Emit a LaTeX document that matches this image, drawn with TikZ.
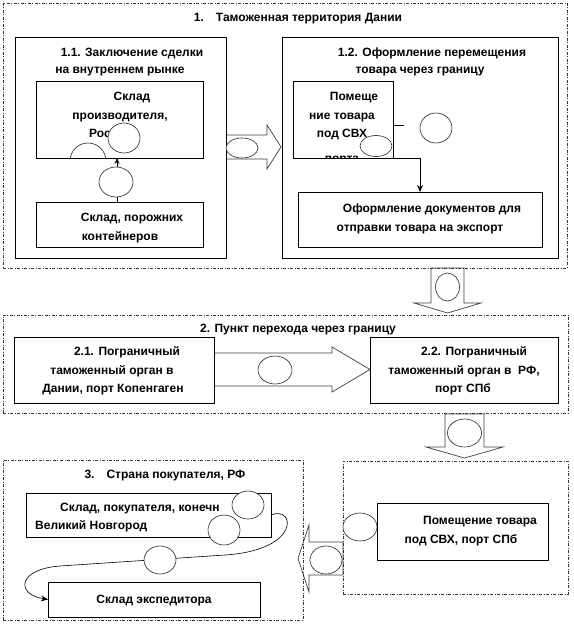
\documentclass[tikz,border=0pt]{standalone}
\usepackage{fontspec}
\setmainfont{Liberation Sans}
\usetikzlibrary{shapes.geometric,arrows.meta}
\begin{document}
\begin{tikzpicture}[x=1pt,y=-1pt,
  dashbox/.style={draw=black!80, line width=0.6pt, dash pattern=on 3pt off 1.5pt on 1pt off 1.5pt, anchor=north west, inner sep=0pt, outer sep=0pt},
  box/.style={draw=black, line width=0.8pt, fill=white, anchor=north west, inner sep=0pt, outer sep=0pt},
  txt/.style={font=\bfseries\fontsize{12}{14}\selectfont, inner sep=0pt, anchor=base},
  ell/.style={ellipse, draw=black!85, fill=white, line width=0.6pt, inner sep=0pt, outer sep=0pt},
  barrow/.style={draw=black!75, fill=white, line width=0.7pt, line join=miter},
  conn/.style={draw=black, line width=0.6pt}
]
\useasboundingbox (0,0) rectangle (573,628);
\fill[white] (0,0) rectangle (573,628);

% block arrows
\draw[barrow] (226,135) -- (267,135) -- (267,125) -- (281,147) -- (267,169) -- (267,159) -- (226,159) -- cycle;
\draw[barrow] (431,268) -- (431,303) -- (414,303) -- (447.5,313) -- (481,303) -- (464,303) -- (464,268) -- cycle;
\draw[barrow] (214,353) -- (332,353) -- (332,347) -- (370,369.5) -- (332,392) -- (332,386) -- (214,386) -- cycle;
\draw[barrow] (445,414) -- (445,447) -- (426,447) -- (464.5,458) -- (503,447) -- (484,447) -- (484,414) -- cycle;
\draw[barrow] (343,542) -- (309,542) -- (309,525) -- (298,558.5) -- (309,592) -- (309,575) -- (343,575) -- cycle;

% dashed regions
\node[dashbox, minimum width=564, minimum height=265] (D1) at (3,3) {};
\node[dashbox, minimum width=565, minimum height=98] (D2) at (3,315) {};
\node[dashbox, minimum width=300, minimum height=160] (D3L) at (3,460) {};
\node[dashbox, minimum width=225, minimum height=133] (D3R) at (343,461) {};

% solid boxes
\node[box, minimum width=211, minimum height=221] (B11) at (15,37) {};
\node[box, minimum width=167, minimum height=77] (Bprod) at (36,81) {};
\node[box, minimum width=167, minimum height=45] (Bempty) at (36,202) {};
\node[box, minimum width=276, minimum height=221] (B12) at (282,37) {};
\node[box, minimum width=100, minimum height=77] (Bsvx) at (293,81) {};
\node[box, minimum width=244, minimum height=55] (Bdoc) at (298,192) {};
\node[box, minimum width=200, minimum height=66] (B21) at (14,337) {};
\node[box, minimum width=188, minimum height=66] (B22) at (370,337) {};
\node[box, minimum width=245, minimum height=44] (Bbuy) at (26,493) {};
\node[box, minimum width=212, minimum height=35] (Bexp) at (48,582) {};
\node[box, minimum width=171, minimum height=57] (Bsvx2) at (377,503) {};

% texts
\node[txt] (T1) at (298,22) {1.\hspace{12pt}Таможенная территория Дании};
\node[txt] (t11a) at (132,57) {1.1. Заключение сделки};
\node[txt] (t11b) at (120,74) {на внутреннем рынке};
\node[txt] (tpa) at (132,101) {Склад};
\node[txt] (tpb) at (120,120) {производителя,};
\node[txt, anchor=base west] (tpc) at (89,138) {Россие};
\node[txt] (tea) at (132,222) {Склад, порожних};
\node[txt] (teb) at (120,240) {контейнеров};
\node[txt] (t12a) at (432,57) {1.2. Оформление перемещения};
\node[txt] (t12b) at (420,74) {товара через границу};
\node[txt] (tsa) at (354,101) {Помеще};
\node[txt] (tsb) at (342,120) {ние товара};
\node[txt] (tsc) at (342,138) {под СВХ};
\begin{scope}
\clip (Bsvx.south west) rectangle (Bsvx.north east);
\node[txt] (tsd) at (342,163) {порта};
\end{scope}
\node[txt] (tda) at (432,212) {Оформление документов для};
\node[txt] (tdb) at (420,231) {отправки товара на экспорт};
\node[txt] (T2) at (298,332) {2. Пункт перехода через границу};
\node[txt] (t21a) at (127,355) {2.1. Пограничный};
\node[txt] (t21b) at (112,374) {таможенный орган в};
\node[txt] (t21c) at (113,392) {Дании, порт Копенгаген};
\node[txt] (t22a) at (474,355) {2.2. Пограничный};
\node[txt] (t22b) at (464,374) {таможенный орган в\ \ РФ,};
\node[txt] (t22c) at (463,392) {порт СПб};
\node[txt] (T3) at (165,478) {3.\hspace{12pt}Страна покупателя, РФ};
\node[txt, anchor=base west] (tba) at (60,511) {Склад, покупателя, конечн};
\node[txt, anchor=base west] (tbb) at (35,529) {Великий Новгород};
\node[txt] (tx) at (154,603) {Склад экспедитора};
\node[txt] (tva) at (480,524) {Помещение товара};
\node[txt] (tvb) at (461,543) {под СВХ, порт СПб};

% connectors
\draw[conn, -{Stealth[length=6pt,width=5pt]}] ([xshift=-2.5pt]Bempty.north) -- ([xshift=-2.5pt]Bprod.south);
\coordinate (stub) at (404,125);
\draw[conn] (stub -| Bsvx.east) -- (stub);
\draw[conn, -{Stealth[length=7pt,width=6pt]}] (Bsvx.south east) -| (Bdoc.north);
\draw[conn, -{Stealth[length=7pt,width=6pt]}] (Bbuy.east) .. controls (295,505) and (302,550) .. (225,555) -- (60,566) .. controls (18,569) and (15,594) .. (Bexp.west);

% arc in producer box
\begin{scope}
\clip (Bprod.south west) rectangle (Bprod.north east);
\node[ell, fill=none, minimum width=36, minimum height=36] (arc) at (88,161) {};
\end{scope}

% ellipses
\node[ell, minimum width=32, minimum height=30] (c1) at (124,138) {};
\node[ell, minimum width=34, minimum height=30] (c2) at (116,182) {};
\node[ell, minimum width=32, minimum height=20] (e1) at (242,148) {};
\node[ell, minimum width=32, minimum height=21] (e2) at (376,146) {};
\node[ell, minimum width=32, minimum height=30] (c3) at (436,128) {};
\node[ell, minimum width=24, minimum height=28] (e3) at (447.5,287) {};
\node[ell, minimum width=34, minimum height=28] (e4) at (275,370) {};
\node[ell, minimum width=34, minimum height=28] (e5) at (464.5,433) {};
\node[ell, minimum width=32, minimum height=28] (c6) at (248,505) {};
\node[ell, minimum width=32, minimum height=30] (c7) at (224,530) {};
\node[ell, minimum width=32, minimum height=28] (c8) at (160,560) {};
\node[ell, minimum width=32, minimum height=28] (e9) at (326,560) {};
\node[ell, minimum width=34, minimum height=28] (e10) at (360,527) {};
\end{tikzpicture}
\end{document}
